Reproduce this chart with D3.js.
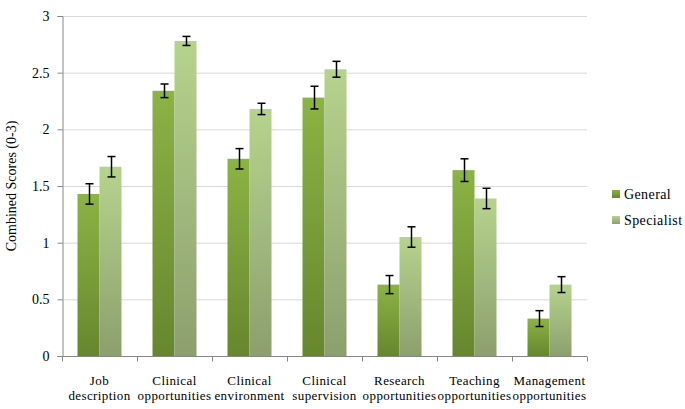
<!DOCTYPE html>
<html><head><meta charset="utf-8">
<script src="https://cdn.jsdelivr.net/npm/d3@7/dist/d3.min.js"></script>
<style>body{margin:0;background:#fff}svg{display:block}</style>
</head><body><svg id="c" width="685" height="409"></svg>
<script>
const categories = [["Job","description"],["Clinical","opportunities"],["Clinical","environment"],["Clinical","supervision"],["Research","opportunities"],["Teaching","opportunities"],["Management","opportunities"]];
const seriesNames = ["General","Specialist"];
const generalValues = [1.43,2.34,1.74,2.28,0.63,1.64,0.33];
const specialistValues = [1.67,2.78,2.18,2.53,1.05,1.39,0.63];
const generalErrors = [0.09,0.06,0.09,0.10,0.08,0.10,0.07];
const specialistErrors = [0.09,0.04,0.05,0.07,0.09,0.09,0.07];
const yTicks = [0,0.5,1,1.5,2,2.5,3];
const yTickLabels = ["0","0.5","1","1.5","2","2.5","3"];

const FONT = "'Liberation Serif', Tinos, 'Times New Roman', 'DejaVu Serif', serif";
const svg = d3.select("#c");
const L=62,R=587,T=16,B=356;
const x = d3.scaleBand().domain(d3.range(categories.length)).range([L,R]).paddingInner(0).paddingOuter(0);
const xs = d3.scaleBand().domain([0,1]).range([0,44]);
const y = d3.scaleLinear().domain([0,3]).range([B,T]);

const defs = svg.append("defs");
const grads = [["gG","#8cb345","#67862e"],["gS","#b6d38d","#8c9f6e"]];
grads.forEach(([id,top,bot])=>{
  const g=defs.append("linearGradient").attr("id",id).attr("x1",0).attr("y1",0).attr("x2",0).attr("y2",1);
  g.append("stop").attr("offset","0%").attr("stop-color",top);
  g.append("stop").attr("offset","100%").attr("stop-color",bot);
});

// gridlines
svg.append("g").selectAll("line").data(yTicks.slice(1)).join("line")
  .attr("x1",L).attr("x2",R).attr("y1",d=>y(d)+0.5).attr("y2",d=>y(d)+0.5)
  .attr("stroke","#d9d9d9").attr("stroke-width",1);

// y axis
const ya = svg.append("g").attr("transform",`translate(${L+0.5},0)`)
  .call(d3.axisLeft(y).tickValues(yTicks).tickFormat((d,i)=>yTickLabels[i]).tickSize(5).tickPadding(8));
ya.attr("font-family",FONT).attr("font-size",14);
ya.select(".domain").attr("stroke","#868686");
ya.selectAll(".tick line").attr("stroke","#868686");
ya.selectAll("text").attr("fill","#000");

// x axis
const xa = svg.append("g").attr("transform",`translate(0,${B+0.5})`);
xa.append("line").attr("x1",L).attr("x2",R).attr("stroke","#868686");
xa.selectAll("line.t").data(d3.range(categories.length+1)).join("line").attr("class","t")
  .attr("x1",i=>L+i*x.bandwidth()+0.5).attr("x2",i=>L+i*x.bandwidth()+0.5).attr("y1",0).attr("y2",5).attr("stroke","#868686");
const xl = svg.append("g").attr("font-family",FONT).attr("font-size",13).selectAll("text").data(categories).join("text")
  .attr("text-anchor","middle").attr("x",(d,i)=>x(i)+x.bandwidth()/2).attr("y",385)
  .attr("letter-spacing","0.4");
xl.each(function(d){
  const t=d3.select(this);
  t.append("tspan").attr("x",t.attr("x")).attr("dy",0).text(d[0]);
  t.append("tspan").attr("x",t.attr("x")).attr("dy",15).text(d[1]);
});

// bars
const data = [generalValues,specialistValues];
const errs = [generalErrors,specialistErrors];
const fills = ["url(#gG)","url(#gS)"];
data.forEach((vals,s)=>{
  const g=svg.append("g");
  g.selectAll("rect").data(vals).join("rect")
    .attr("x",(d,i)=>x(i)+x.bandwidth()/2-22+xs(s))
    .attr("width",xs.bandwidth())
    .attr("y",d=>y(d)).attr("height",d=>B-y(d))
    .attr("fill",fills[s]);
});
// error bars
data.forEach((vals,s)=>{
  const g=svg.append("g").attr("stroke","#000").attr("stroke-width",1.5);
  vals.forEach((v,i)=>{
    const cx=Math.round(x(i)+x.bandwidth()/2-22+xs(s)+xs.bandwidth()/2)+0.5;
    const e=errs[s][i];
    g.append("line").attr("x1",cx).attr("x2",cx).attr("y1",y(v+e)).attr("y2",y(v-e));
    g.append("line").attr("x1",cx-4).attr("x2",cx+4).attr("y1",y(v+e)).attr("y2",y(v+e));
    g.append("line").attr("x1",cx-4).attr("x2",cx+4).attr("y1",y(v-e)).attr("y2",y(v-e));
  });
});

// y label
svg.append("text").attr("transform","translate(16,186) rotate(-90)").attr("text-anchor","middle")
  .attr("font-family",FONT).attr("font-size",14).text("Combined Scores (0-3)");

// legend
const lg = svg.append("g").attr("font-family",FONT).attr("font-size",14);
seriesNames.forEach((n,i)=>{
  lg.append("rect").attr("x",612).attr("y",190+i*26).attr("width",8).attr("height",8).attr("fill",fills[i]);
  lg.append("text").attr("x",624).attr("y",199+i*26).attr("letter-spacing","0.4").text(n);
});
</script></body></html>
